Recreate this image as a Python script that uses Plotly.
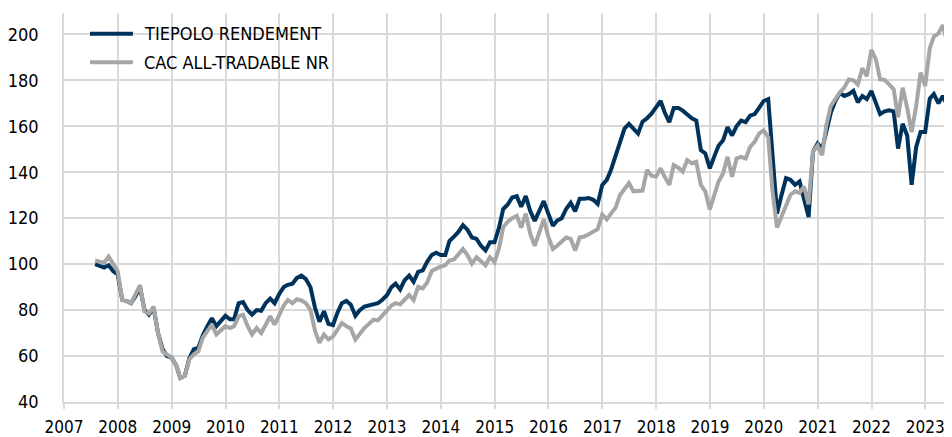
import pandas as pd
import plotly.graph_objects as go

# Monthly dates (month end), Jul 2007 -> Jun 2023
dates = pd.date_range("2007-07-31", periods=192, freq="ME")

tiepolo = [
    100, 99, 98.5, 99.5, 97, 95.5, 84.5, 84, 83, 86,
    90, 80, 78, 81, 70, 63, 60, 59.3, 56, 50.5,
    51.5, 59, 63, 63.5, 69, 73, 76.5, 73, 75.5, 77.5,
    76, 76, 83, 83.5, 80, 78, 80, 79.7, 83, 85,
    83, 87, 90, 91, 91.5, 94, 95, 93.5, 90, 81,
    75, 79.5, 74, 73.5, 79, 83, 84, 82.3, 77.5, 80,
    81.5, 82, 82.5, 83, 84.5, 86.5, 90, 91.5, 89, 93,
    95, 92.3, 96.6, 97.3, 101, 104, 105, 104, 104, 110,
    112, 114, 117, 115, 111.6, 111, 108, 106, 109.5, 109.5,
    116, 124, 126, 129, 129.6, 125, 129.6, 123, 118.8, 123,
    127.4, 122, 116.7, 119, 120, 124, 126.7, 123, 128.5, 128.5,
    128.8, 128, 126.2, 134.5, 136.7, 141, 147, 152, 159, 161,
    159, 156.8, 162, 163.5, 165.5, 168, 171, 166, 161.8, 168,
    168, 166.8, 165, 163.5, 162.5, 149.6, 148.2, 141.7, 147, 151.5,
    153.9, 159.6, 156, 160, 162.5, 161.8, 164.6, 165.3, 168, 171,
    171.8, 146, 122, 130, 137.4, 136.7, 134.5, 136, 128.8, 120.5,
    149, 152.5, 150, 158, 166, 171, 174.5, 173.2, 174, 175.4,
    170.4, 173.2, 171.8, 175.4, 170, 165.3, 166.5, 167, 166.5, 150.3,
    161.1, 156, 134.5, 151, 157.5, 157.5, 172, 174, 170, 173.2,
    168.9, 174,
]

cac = [
    101.6, 101, 100.5, 103.3, 100, 97, 84.4, 84, 83, 87,
    90.9, 79.4, 78.5, 81.5, 70, 62, 60.8, 59.3, 56, 50.5,
    51.5, 58.5, 60.8, 62, 68, 71, 73.7, 69.4, 71, 73,
    72.2, 73, 77.3, 78, 73, 69.4, 72.2, 70, 73.5, 77.3,
    73.7, 78, 82, 84.4, 83, 84.7, 84.2, 83, 80.1, 71,
    65.8, 69.4, 67.2, 68.5, 72, 74.4, 73, 72, 67.2, 70,
    72.2, 74, 75.8, 75.5, 77.5, 80.1, 82, 83, 82.5, 84.5,
    86.6, 84.4, 90.1, 89.4, 92, 97, 98, 99, 99.5, 101.6,
    102, 104, 106.6, 104, 100.2, 103, 101.5, 99.5, 103, 100.9,
    107, 116, 118.5, 120, 121, 115.9, 122, 113, 108, 114,
    119.5, 112, 106.6, 108, 110, 111.6, 111, 105.9, 111.6, 112,
    113, 114.2, 115.2, 121.6, 119.5, 122, 124.5, 130, 133, 135.3,
    131.7, 131.7, 132, 141, 138.5, 138.1, 141.7, 138, 134.5, 143.1,
    142, 140.3, 145.3, 143.9, 144.5, 134.5, 131.7, 123.8, 131, 136,
    139.6, 146.7, 138, 146, 146.7, 146, 151, 153.2, 156.8, 158.2,
    155.3, 131.7, 115.9, 121, 125.9, 130.2, 131.7, 131, 133.8, 126,
    148.9, 151.7, 147.4, 160.3, 168.9, 172, 174.7, 176.8, 180.4, 180,
    178.2, 185.3, 181.8, 193.3, 189, 180.4, 180.2, 178.2, 176.1, 163.9,
    176.8, 168, 157.5, 168.9, 183.3, 177.5, 194, 199, 200.4, 204,
    196.1, 204,
]

series_names = ["TIEPOLO RENDEMENT", "CAC ALL-TRADABLE NR"]
series_colors = ["#00335c", "#a6a6a6"]

GRID = "#d9d9d9"
FONT = "DejaVu Sans Condensed"

# Figure geometry (page body adds an 8px offset)
W, H = 944, 429
ML, MR, MT, MB = 55, 0, 5, 30
PW, PH = W - ML - MR, H - MT - MB


def px_to_paper_x(px):
    return (px - 8 - ML) / PW


def px_to_paper_y(py):
    return 1 - (py - 8 - MT) / PH


fig = go.Figure()
for name, vals, col in zip(series_names, [tiepolo, cac], series_colors):
    fig.add_trace(go.Scatter(
        x=dates, y=vals, mode="lines", name=name,
        line=dict(color=col, width=4, shape="linear"),
        showlegend=False,
    ))

# Legend drawn as a boxed key in the top-left corner of the plot
shapes = [dict(
    type="rect", xref="paper", yref="paper", layer="between",
    x0=px_to_paper_x(72), x1=px_to_paper_x(352),
    y0=px_to_paper_y(78), y1=px_to_paper_y(20),
    fillcolor="white", line=dict(width=0),
)]
annotations = []
legend_rows_y = [34, 63]
for name, col, ry in zip(series_names, series_colors, legend_rows_y):
    shapes.append(dict(
        type="line", xref="paper", yref="paper", layer="above",
        x0=px_to_paper_x(89), x1=px_to_paper_x(132),
        y0=px_to_paper_y(ry), y1=px_to_paper_y(ry),
        line=dict(color=col, width=4),
    ))
    annotations.append(dict(
        xref="paper", yref="paper", x=px_to_paper_x(141), y=px_to_paper_y(ry),
        xanchor="left", yanchor="middle", showarrow=False, text=name,
        font=dict(family=FONT, size=18, color="#000000"),
    ))

fig.update_layout(
    width=W, height=H,
    margin=dict(l=ML, r=MR, t=MT, b=MB),
    paper_bgcolor="white", plot_bgcolor="white",
    font=dict(family=FONT, size=18, color="#000000"),
    showlegend=False,
    shapes=shapes,
    annotations=annotations,
    xaxis=dict(
        type="date",
        range=["2007-01-01", "2023-07-01"],
        tick0="2007-01-01", dtick="M12", tickformat="%Y",
        showgrid=True, gridcolor=GRID, gridwidth=1.5,
        ticks="outside", ticklen=5, tickcolor=GRID, tickwidth=1.5,
        showline=True, linecolor=GRID, linewidth=2,
        tickfont=dict(family=FONT, size=17, color="#000000"),
        ticklabelstandoff=4,
        zeroline=False,
    ),
    yaxis=dict(
        range=[40, 209.3], tick0=40, dtick=20,
        showgrid=True, gridcolor=GRID, gridwidth=1.5,
        ticks="", showline=True, linecolor=GRID, linewidth=1.5,
        tickfont=dict(family=FONT, size=18, color="#000000"),
        ticklabelstandoff=20,
        zeroline=False,
    ),
)

fig.write_html("out.html")
